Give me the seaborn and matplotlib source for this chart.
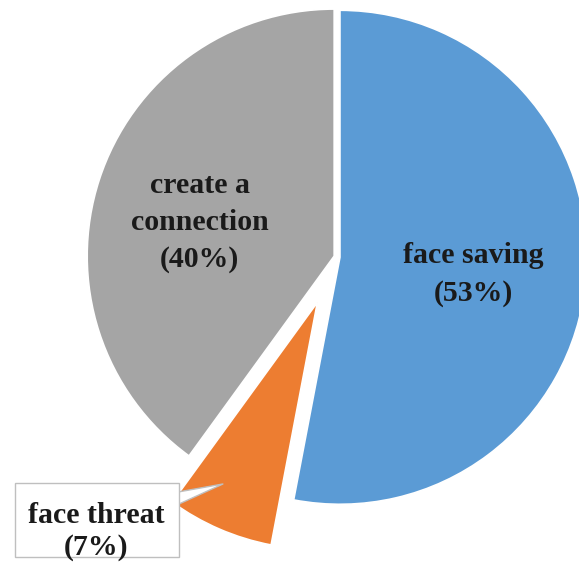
import matplotlib
matplotlib.use("Agg")
import matplotlib.pyplot as plt
from matplotlib.patches import Rectangle
import seaborn as sns

sns.set_style("white")
plt.rcParams["font.family"] = ["Liberation Serif", "DejaVu Serif"]

categories = ["face saving", "face threat", "create a connection"]
shares = [53, 7, 40]
colors = ["#5B9BD5", "#ED7D31", "#A5A5A5"]
explode = [0.012, 0.2, 0.012]

fig = plt.figure(figsize=(5.79, 5.67), dpi=100)
ax = fig.add_axes([0, 0, 1, 1])

wedges, _ = ax.pie(
    shares,
    colors=colors,
    explode=explode,
    startangle=90,
    counterclock=False,
    radius=1.0,
    wedgeprops=dict(edgecolor="white", linewidth=1.2),
)

ax.set_xlim(-337 / 247, (579 - 337) / 247)
ax.set_ylim(-(567 - 257) / 247, 257 / 247)
ax.set_aspect("auto")
ax.axis("off")

txt = dict(fontsize=21.5, fontweight="bold", color="#1a1a1a", ha="center", va="center")

ax.text(0.553, -0.071, f"{categories[0]}\n({shares[0]}%)", linespacing=1.5, **txt)
ax.text(-0.555, 0.14, f"create a\nconnection\n({shares[2]}%)", linespacing=1.45, **txt)

# callout pointer for the small slice, drawn beneath its label box
ax.annotate(
    "",
    xy=(-0.462, -0.919),
    xytext=(-0.696, -0.992),
    arrowprops=dict(arrowstyle="wedge,tail_width=0.55,shrink_factor=0.5",
                    mutation_scale=20, fc="white", ec="#bfbfbf", lw=1,
                    shrinkA=0, shrinkB=0),
    zorder=4,
)
ax.add_patch(Rectangle((-1.304, -1.215), 0.664, 0.300, fc="white", ec="#bfbfbf",
                       lw=1, zorder=5))
ax.text(-0.976, -1.112, f"{categories[1]}\n({shares[1]}%)", linespacing=1.2,
        zorder=6, **txt)

fig.savefig("out.png", dpi=100)
